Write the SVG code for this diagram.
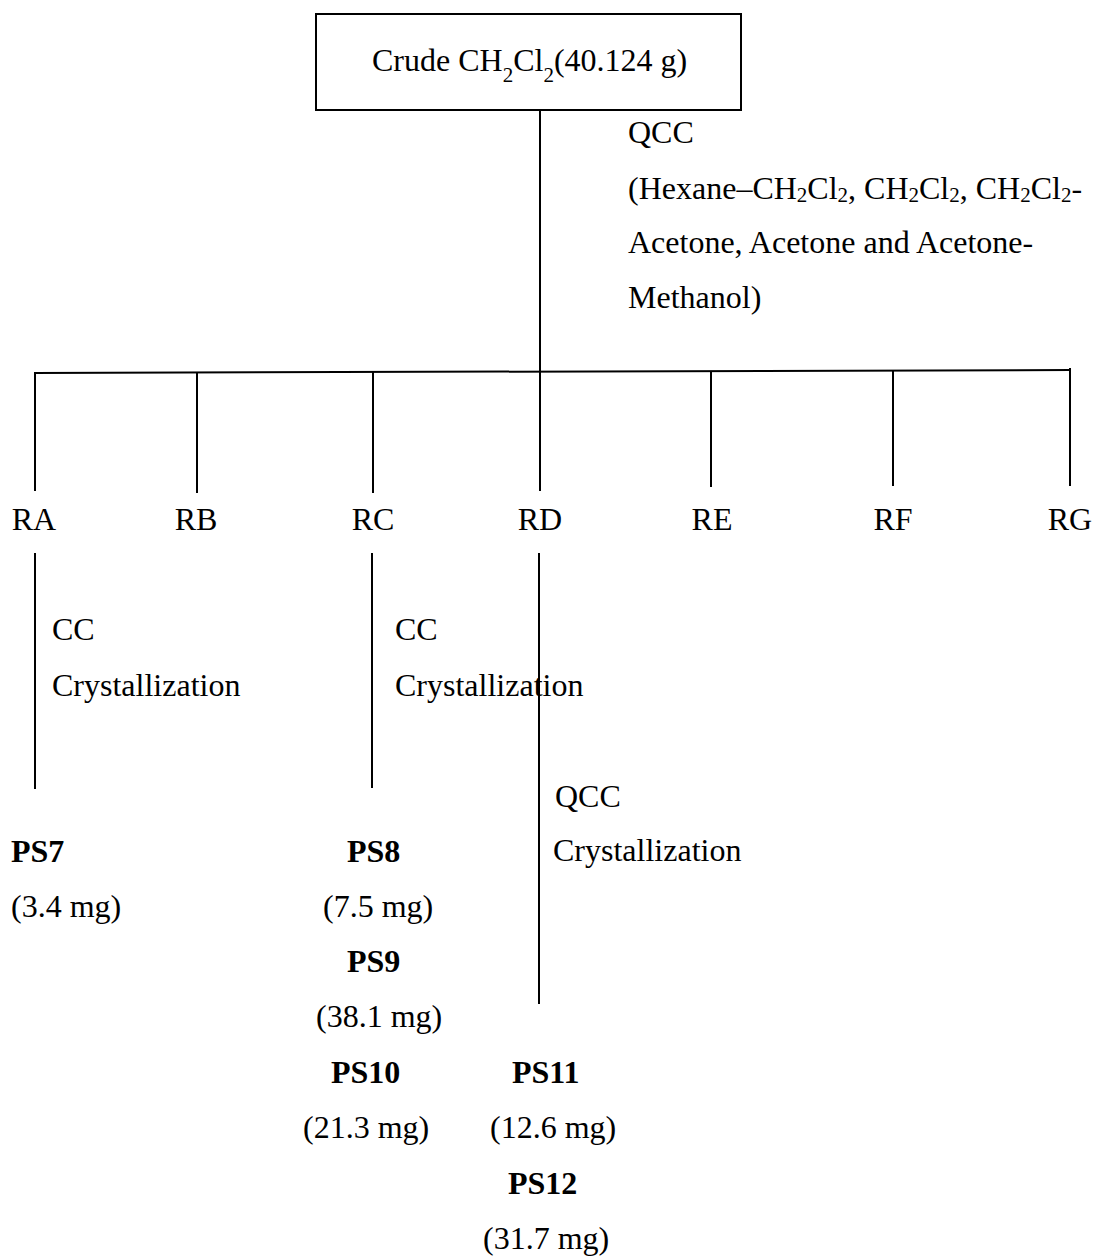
<svg xmlns="http://www.w3.org/2000/svg" width="1101" height="1257" viewBox="0 0 1101 1257">
<style>
text{font-family:"Liberation Serif","Times New Roman",serif;font-size:32px;fill:#000}
.b{font-weight:bold}
.m{text-anchor:middle}
.ln{stroke:#000;stroke-width:2;fill:none}
.sub{font-size:21px}
</style>
<rect width="1101" height="1257" fill="#fff"/>
<g id="connectors">
<line class="ln" x1="540" y1="110" x2="540" y2="372"/>
<line class="ln" x1="34" y1="373" x2="1071" y2="370"/>
<line class="ln" x1="35" y1="373" x2="35" y2="491"/>
<line class="ln" x1="197" y1="372.5" x2="197" y2="493"/>
<line class="ln" x1="373" y1="372" x2="373" y2="493"/>
<line class="ln" x1="540" y1="371.5" x2="540" y2="491"/>
<line class="ln" x1="711" y1="371" x2="711" y2="487"/>
<line class="ln" x1="893" y1="370.5" x2="893" y2="486"/>
<line class="ln" x1="1070" y1="368" x2="1070" y2="486"/>
<line class="ln" x1="35" y1="553" x2="35" y2="789"/>
<line class="ln" x1="372" y1="553" x2="372" y2="788"/>
<line class="ln" x1="539" y1="553" x2="539" y2="1004"/>
</g>
<g id="crude">
<rect x="316" y="14" width="425" height="96" fill="#fff" stroke="#000" stroke-width="2"/>
<text x="372" y="71">Crude CH<tspan class="sub" dy="11">2</tspan><tspan dy="-11">Cl</tspan><tspan class="sub" dy="11">2</tspan><tspan dy="-11">(40.124 g)</tspan></text>
</g>
<g id="qcc-label">
<text x="628" y="143">QCC</text>
<text x="628" y="199">(Hexane–CH<tspan class="sub" dy="3">2</tspan><tspan dy="-3">Cl</tspan><tspan class="sub" dy="3">2</tspan><tspan dy="-3">, CH</tspan><tspan class="sub" dy="3">2</tspan><tspan dy="-3">Cl</tspan><tspan class="sub" dy="3">2</tspan><tspan dy="-3">, CH</tspan><tspan class="sub" dy="3">2</tspan><tspan dy="-3">Cl</tspan><tspan class="sub" dy="3">2</tspan><tspan dy="-3">-</tspan></text>
<text x="628" y="253">Acetone, Acetone and Acetone-</text>
<text x="628" y="308">Methanol)</text>
</g>
<g id="RA"><text class="m" x="34" y="530">RA</text></g>
<g id="RB"><text class="m" x="196" y="530">RB</text></g>
<g id="RC"><text class="m" x="373" y="530">RC</text></g>
<g id="RD"><text class="m" x="540" y="530">RD</text></g>
<g id="RE"><text class="m" x="712" y="530">RE</text></g>
<g id="RF"><text class="m" x="893" y="530">RF</text></g>
<g id="RG"><text class="m" x="1070" y="530">RG</text></g>
<g id="ra-step">
<text x="52" y="640">CC</text>
<text x="52" y="696">Crystallization</text>
</g>
<g id="rc-step">
<text x="395" y="640">CC</text>
<text x="395" y="696">Crystallization</text>
</g>
<g id="rd-step">
<text x="555" y="807">QCC</text>
<text x="553" y="861">Crystallization</text>
</g>
<g id="PS7">
<text class="b" x="11" y="862">PS7</text>
<text x="11" y="917">(3.4 mg)</text>
</g>
<g id="PS8">
<text class="b" x="347" y="862">PS8</text>
<text x="323" y="917">(7.5 mg)</text>
</g>
<g id="PS9">
<text class="b" x="347" y="972">PS9</text>
<text x="316" y="1027">(38.1 mg)</text>
</g>
<g id="PS10">
<text class="b" x="331" y="1083">PS10</text>
<text x="303" y="1138">(21.3 mg)</text>
</g>
<g id="PS11">
<text class="b" x="512" y="1083">PS11</text>
<text x="490" y="1138">(12.6 mg)</text>
</g>
<g id="PS12">
<text class="b" x="508" y="1194">PS12</text>
<text x="483" y="1249">(31.7 mg)</text>
</g>
</svg>
